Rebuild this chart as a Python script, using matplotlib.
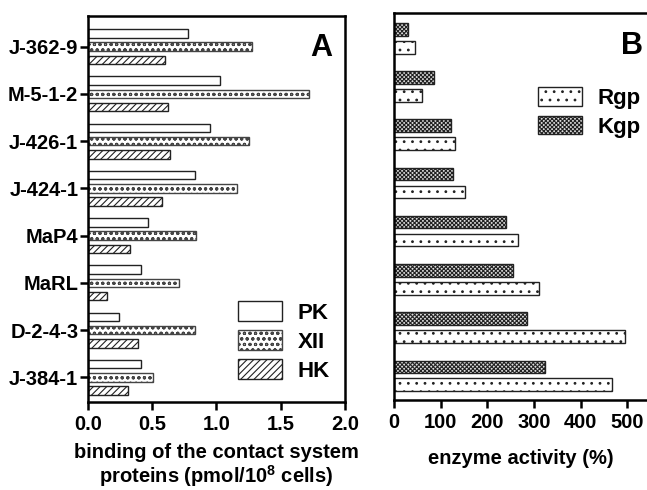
import matplotlib
matplotlib.use('Agg')
import matplotlib.pyplot as plt
import numpy as np
from matplotlib.patches import Patch

# DATA #################################################################################################################

strains = ['J-384-1', 'D-2-4-3', 'MaRL', 'MaP4', 'J-424-1', 'J-426-1', 'M-5-1-2', 'J-362-9']  # bottom to top

pk = [0.41, 0.24, 0.41, 0.47, 0.83, 0.95, 1.03, 0.78]
xii = [0.51, 0.83, 0.71, 0.84, 1.16, 1.25, 1.72, 1.28]
hk = [0.31, 0.39, 0.15, 0.33, 0.58, 0.64, 0.62, 0.60]

rgp = [466, 494, 310, 266, 153, 131, 59, 46]
kgp = [324, 284, 255, 240, 127, 123, 86, 29]

########################################################################################################################

plt.rcParams['font.family'] = ['Liberation Sans', 'DejaVu Sans']
plt.rcParams['font.weight'] = 'bold'
plt.rcParams['mathtext.fontset'] = 'custom'
plt.rcParams['mathtext.rm'] = 'Liberation Sans:bold'
plt.rcParams['mathtext.bf'] = 'Liberation Sans:bold'
plt.rcParams['hatch.linewidth'] = 0.8

edge = '#222222'
y = np.arange(len(strains))

fig = plt.figure(figsize=(6.47, 4.9), dpi=100)

# panel A
ax1 = fig.add_axes([0.136, 0.1796, 0.397, 0.788])
h = 0.18
off = 0.28
ax1.barh(y + off, pk, height=h, color='white', edgecolor=edge, linewidth=1, label='PK')
ax1.barh(y, xii, height=h, color='white', edgecolor='#444444', linewidth=1, hatch='ooo', label='XII')
ax1.barh(y - off, hk, height=h, color='white', edgecolor=edge, linewidth=1, hatch='/////', label='HK')
ax1.set_xlim(0, 2.0)
ax1.set_ylim(-0.52, 7.65)
ax1.set_xticks([0, 0.5, 1.0, 1.5, 2.0])
ax1.set_xticklabels(['0.0', '0.5', '1.0', '1.5', '2.0'])
ax1.set_yticks(y)
ax1.set_yticklabels(strains)
ax1.tick_params(axis='both', labelsize=14.5, width=1.8, length=6, direction='out')
ax1.tick_params(axis='y', pad=1)
for s in ax1.spines.values():
    s.set_linewidth(1.8)
ax1.set_xlabel('binding of the contact system\nproteins (pmol/10$^{8}$ cells)', fontsize=14.5,
               fontweight='bold', labelpad=6, linespacing=1.1)
ax1.text(0.95, 0.955, 'A', transform=ax1.transAxes, fontsize=22, fontweight='bold', ha='right', va='top')
ax1.legend(loc='lower right', bbox_to_anchor=(1.02, 0.0), frameon=False, fontsize=16,
           handlelength=2.0, handleheight=1.0, labelspacing=0.3, handletextpad=0.7)

# panel B
ax2 = fig.add_axes([0.609, 0.184, 0.391, 0.789])
hb = 0.26
offb = 0.186
ax2.barh(y + offb, kgp, height=hb, color='#dddddd', edgecolor=edge, linewidth=1, hatch='xxxxxxxx', label='Kgp')
ax2.barh(y - offb, rgp, height=hb, color='white', edgecolor=edge, linewidth=1, hatch='..', label='Rgp')
ax2.set_xlim(0, 542)
ax2.set_ylim(-0.5, 7.52)
ax2.set_xticks([0, 100, 200, 300, 400, 500])
ax2.set_yticks([])
ax2.tick_params(axis='x', labelsize=14.5, width=1.8, length=6, direction='out')
ax2.spines['right'].set_visible(False)
for s in ax2.spines.values():
    s.set_linewidth(1.8)
ax2.set_xlabel('enzyme activity (%)', fontsize=14.5, fontweight='bold', labelpad=12)
ax2.text(0.985, 0.955, 'B', transform=ax2.transAxes, fontsize=22, fontweight='bold', ha='right', va='top')
handles = [Patch(facecolor='white', edgecolor=edge, hatch='..', label='Rgp'),
           Patch(facecolor='#dddddd', edgecolor=edge, hatch='xxxxxxxx', label='Kgp')]
ax2.legend(handles=handles, loc='upper left', bbox_to_anchor=(0.49, 0.86), frameon=False, fontsize=16,
           handlelength=2.0, handleheight=0.9, labelspacing=0.3, handletextpad=0.7)

fig.savefig('out.png', dpi=100)
